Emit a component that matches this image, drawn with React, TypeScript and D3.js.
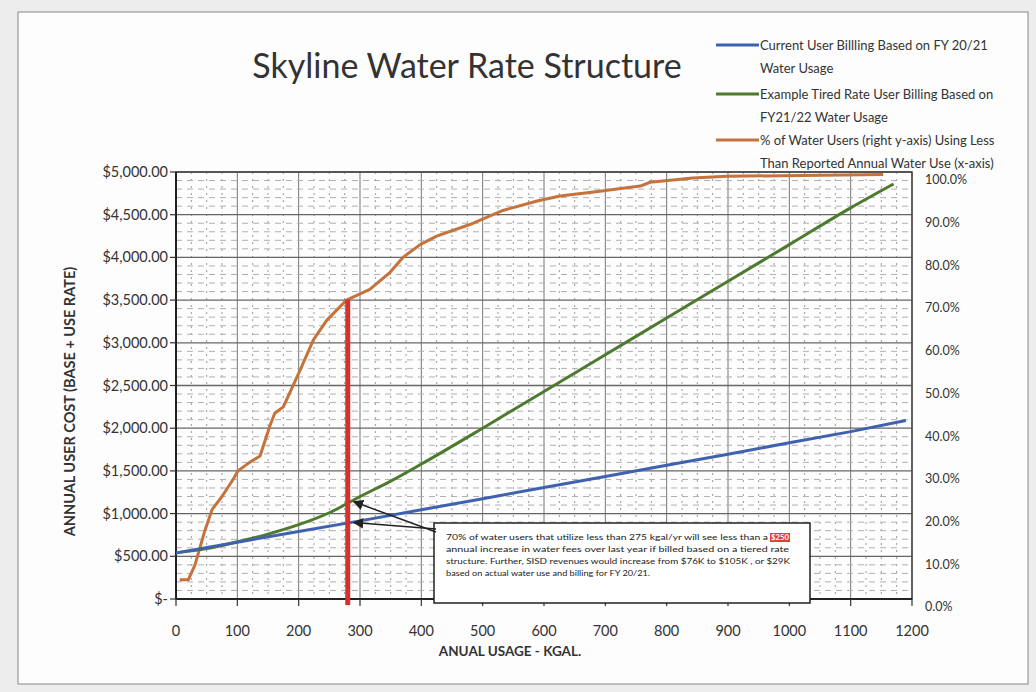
import React from "react";
import { scaleLinear, line, range, format, curveMonotoneX } from "d3";

// current billing (FY 20/21), $ per year vs kgal
const currentUsage = [0, 100, 200, 300, 400, 500, 600, 700, 800, 900, 1000, 1100, 1190];
const currentCost = [540, 665, 790, 915, 1045, 1175, 1305, 1435, 1565, 1695, 1830, 1960, 2090];

// example tiered rate (FY 21/22)
const tieredUsage = [0, 50, 100, 150, 200, 250, 300, 350, 400, 500, 600, 700, 800, 900, 1000, 1100, 1170];
const tieredCost = [540, 590, 670, 760, 870, 1010, 1200, 1380, 1580, 2000, 2430, 2860, 3290, 3720, 4150, 4580, 4860];

// % of users below a given usage (right axis)
const pctUsage = [6, 20, 31, 47, 59, 75, 93, 101, 120, 137, 153, 161, 175, 202, 224, 246, 278, 316, 349, 370, 398, 425, 479, 533, 589, 626, 691, 757, 773, 843, 898, 1153];
const pctUsers = [4.5, 4.5, 8, 16, 21, 24, 28, 30, 32, 33.5, 40.5, 43.5, 45, 53.5, 60.7, 65.3, 70, 72.5, 76.5, 80, 83, 85, 87.7, 91, 93.2, 94.4, 95.5, 96.7, 97.6, 98.6, 99, 99.4];

const xTicks = [0, 100, 200, 300, 400, 500, 600, 700, 800, 900, 1000, 1100, 1200];
const costTicks = [0, 500, 1000, 1500, 2000, 2500, 3000, 3500, 4000, 4500, 5000];
const pctTicks = [0, 10, 20, 30, 40, 50, 60, 70, 80, 90, 100];

const markerUsage = 280;

const noteLines = [
  "70% of water users that utilize less than 275 kgal/yr will see less than a",
  "annual increase in water fees over last year if billed based on a tiered rate",
  "structure. Further, SISD revenues would increase from $76K to $105K , or $29K",
  "based on actual water use and billing for FY 20/21.",
];
const noteHighlight = "$250";

const legendItems = [
  { color: "#3f62b0", text: ["Current User Billling Based on FY 20/21", "Water Usage"] },
  { color: "#4d7a2e", text: ["Example Tired Rate User Billing Based on", "FY21/22 Water Usage"] },
  { color: "#c4733d", text: ["% of Water Users (right y-axis) Using Less", "Than Reported Annual Water Use (x-axis)"] },
];

const font = "Lato, 'Open Sans', sans-serif";

const App = () => {
  const width = 1036;
  const height = 692;
  const left = 176, right = 912, top = 172, bottom = 599;

  const x = scaleLinear().domain([0, 1200]).range([left, right]);
  const yCost = scaleLinear().domain([0, 5000]).range([bottom, top]);
  const yPct = scaleLinear().domain([0, 100]).range([bottom, top]);

  const currentPath = line<number>()
    .x((d) => x(d))
    .y((d, i) => yCost(currentCost[i]))(currentUsage);
  const tieredPath = line<number>()
    .x((d) => x(d))
    .y((d, i) => yCost(tieredCost[i]))
    .curve(curveMonotoneX)(tieredUsage);
  const pctPath = line<number>()
    .x((d) => x(d))
    .y((d, i) => yPct(pctUsers[i]))(pctUsage);

  const money = (v: number) => (v === 0 ? "$-" : "$" + format(",.2f")(v));

  const interp = (xs: number[], ys: number[], v: number) => {
    for (let i = 1; i < xs.length; i++) {
      if (v <= xs[i]) {
        const t = (v - xs[i - 1]) / (xs[i] - xs[i - 1]);
        return ys[i - 1] + t * (ys[i] - ys[i - 1]);
      }
    }
    return ys[ys.length - 1];
  };

  const box = { x: 434, y: 523, w: 376, h: 80 };
  const noteLen = [322, 343, 344, 204];
  const legendY = [45, 94, 140];

  return (
    <>
      <style>{`body{margin:0;background:#fff}`}</style>
      <svg width={width} height={height} style={{ display: "block", fontFamily: font }}>
        <defs>
          <marker id="ah" viewBox="0 0 10 10" refX="9" refY="5" markerWidth="7" markerHeight="7" orient="auto-start-reverse">
            <path d="M0,0 L10,5 L0,10 z" fill="#222" />
          </marker>
        </defs>
        <rect x={0} y={0} width={width} height={height} fill="#ededed" />
        <rect x={18} y={12} width={1010} height={672} fill="#fdfdfd" stroke="#888" strokeWidth={1} />

        {/* title */}
        <text x={467} y={78} textAnchor="middle" fontSize={34} fill="#333">
          Skyline Water Rate Structure
        </text>

        {/* grid */}
        {range(0, 1201, 25).map((v) => (
          <line key={"gx" + v} x1={x(v)} x2={x(v)} y1={top} y2={bottom}
            stroke={v % 100 === 0 ? "#777" : "#9a9a9a"}
            strokeWidth={1}
            strokeDasharray={v % 100 === 0 ? undefined : "2,5"} />
        ))}
        {range(0, 5001, 100).map((v) => (
          <line key={"gy" + v} x1={left} x2={right} y1={yCost(v)} y2={yCost(v)}
            stroke={v % 500 === 0 ? "#666" : "#b0b0b0"}
            strokeWidth={v % 500 === 0 ? 1.3 : 1}
            strokeDasharray={v % 500 === 0 ? undefined : "6,5"} />
        ))}
        <rect x={left} y={top} width={right - left} height={bottom - top} fill="none" stroke="#444" strokeWidth={1.5} />
        <line x1={left} x2={left} y1={top} y2={bottom} stroke="#222" strokeWidth={2} />
        <line x1={left} x2={right} y1={bottom} y2={bottom} stroke="#222" strokeWidth={2} />

        {/* left axis */}
        {costTicks.map((v) => (
          <g key={"lt" + v}>
            <line x1={left - 6} x2={left} y1={yCost(v)} y2={yCost(v)} stroke="#333" strokeWidth={1.2} />
            <text x={168} y={yCost(v)} dy="0.35em" textAnchor="end" fontSize={14.5} fill="#333">{money(v)}</text>
          </g>
        ))}
        <text transform={`translate(75, ${(top + bottom) / 2 + 16}) rotate(-90)`} textAnchor="middle" fontSize={14.5} fontWeight="bold" fill="#333">
          ANNUAL USER COST (BASE + USE RATE)
        </text>

        {/* right axis */}
        {pctTicks.map((v) => (
          <text key={"rt" + v} x={925} y={yPct(v) + 8} dy="0.35em" fontSize={12.5} fill="#333">
            {format(".1f")(v) + "%"}
          </text>
        ))}

        {/* bottom axis */}
        {xTicks.map((v) => (
          <g key={"bt" + v}>
            <line x1={x(v)} x2={x(v)} y1={bottom} y2={bottom + 7} stroke="#333" strokeWidth={1.2} />
            <text x={x(v)} y={636} textAnchor="middle" fontSize={14.5} fill="#333">{v}</text>
          </g>
        ))}
        <text x={510} y={656} textAnchor="middle" fontSize={13.5} fontWeight="bold" fill="#333">
          ANUAL USAGE - KGAL.
        </text>

        {/* series */}
        <path d={pctPath ?? ""} fill="none" stroke="#c4733d" strokeWidth={3} strokeLinejoin="round" />
        <path d={tieredPath ?? ""} fill="none" stroke="#4d7a2e" strokeWidth={3} />
        <path d={currentPath ?? ""} fill="none" stroke="#3f62b0" strokeWidth={3} />

        {/* 280 kgal marker */}
        <line x1={x(markerUsage)} x2={x(markerUsage)}
          y1={yPct(interp(pctUsage, pctUsers, markerUsage))} y2={bottom + 6}
          stroke="#d8302c" strokeWidth={5} />

        {/* annotation */}
        <rect x={box.x} y={box.y} width={box.w} height={box.h} fill="#fff" stroke="#222" strokeWidth={1.5} />
        <line x1={box.x + 2} y1={box.y + 9} x2={x(markerUsage) + 6} y2={yCost(interp(tieredUsage, tieredCost, markerUsage + 4))}
          stroke="#222" strokeWidth={1.5} markerEnd="url(#ah)" />
        <line x1={box.x + 2} y1={box.y + 6} x2={x(markerUsage) + 6} y2={yCost(interp(currentUsage, currentCost, markerUsage + 4))}
          stroke="#222" strokeWidth={1.5} markerEnd="url(#ah)" />
        {noteLines.map((l, i) => (
          <text key={"n" + i} x={box.x + 12} y={box.y + 17 + i * 12} fontSize={7.8} fill="#222"
            textLength={noteLen[i]} lengthAdjust="spacingAndGlyphs">
            {l}
          </text>
        ))}
        <rect x={box.x + 336} y={box.y + 10} width={20} height={9} fill="#e0412f" />
        <text x={box.x + 346} y={box.y + 17} textAnchor="middle" fontSize={7.8} fill="#fff" fontWeight="bold">{noteHighlight}</text>

        {/* legend */}
        {legendItems.map((d, i) => (
          <g key={"lg" + i}>
            <line x1={716} x2={759} y1={legendY[i]} y2={legendY[i]} stroke={d.color} strokeWidth={3} />
            <text x={760} y={legendY[i]} dy="0.35em" fontSize={13} fill="#333">{d.text[0]}</text>
            <text x={760} y={legendY[i] + 23} dy="0.35em" fontSize={13} fill="#333">{d.text[1]}</text>
          </g>
        ))}
      </svg>
    </>
  );
};

export default App;
